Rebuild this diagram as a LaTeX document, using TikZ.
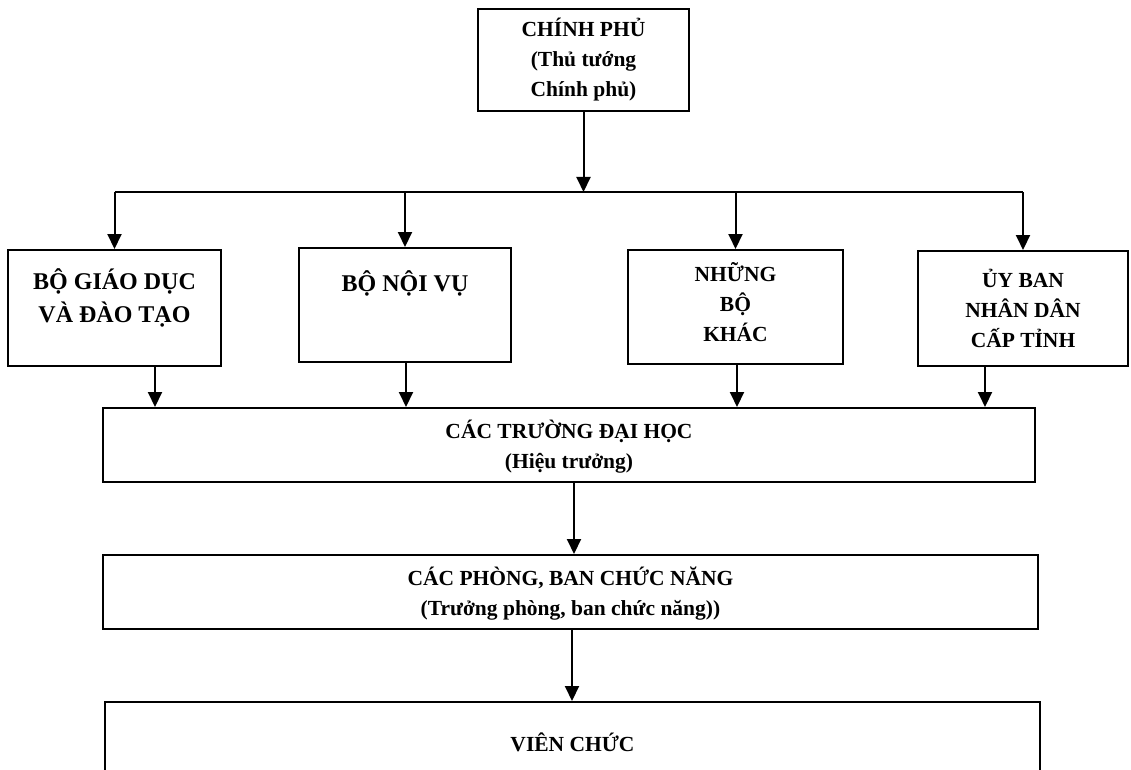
\documentclass[tikz,border=0pt]{standalone}
\usepackage{fontspec}
\setmainfont{Liberation Serif}
\usetikzlibrary{arrows.meta}

\tikzset{
	box/.style={draw, line width=2pt, inner sep=0pt},
	lbl/.style={align=center, font=\fontsize{21.5}{30}\selectfont\bfseries},
	biglbl/.style={align=center, font=\fontsize{24}{33}\selectfont\bfseries},
	arr/.style={line width=2pt, -{Triangle[width=14pt, length=15pt]}},
}

\begin{document}
\begin{tikzpicture}[x=1pt, y=-1pt]
	\useasboundingbox (0, 0) rectangle (1131, 770);
	\clip (0, 0) rectangle (1131, 770);
	% top
	\node [box, lbl, minimum width=211pt, minimum height=102pt] (gov) at (583.5, 60) {CHÍNH PHỦ\\(Thủ tướng\\Chính phủ)};
	\coordinate (bus) at (583.5, 192);
	% ministries
	\node [box, minimum width=213pt, minimum height=116pt] (moet) at (114.5, 308) {};
	\node [box, minimum width=212pt, minimum height=114pt] (moha) at (405, 305) {};
	\node [box, minimum width=215pt, minimum height=114pt] (other) at (735.5, 307) {};
	\node [box, minimum width=210pt, minimum height=115pt] (ppc) at (1023, 308.5) {};
	\node [biglbl] (t-moet) at (114.5, 298) {BỘ GIÁO DỤC\\VÀ ĐÀO TẠO};
	\node [biglbl] (t-moha) at (405, 283) {BỘ NỘI VỤ};
	\node [lbl] (t-other) at (735.5, 302) {NHỮNG\\BỘ\\KHÁC};
	\node [lbl] (t-ppc) at (1023, 308) {ỦY BAN\\NHÂN DÂN\\CẤP TỈNH};
	% lower levels
	\node [box, minimum width=932pt, minimum height=74pt] (univ) at (569, 445) {};
	\node [lbl] (t-univ) at (569, 447) {CÁC TRƯỜNG ĐẠI HỌC\\(Hiệu trưởng)};
	\node [box, minimum width=935pt, minimum height=74pt] (dept) at (570.5, 592) {};
	\node [lbl] (t-dept) at (570.5, 594) {CÁC PHÒNG, BAN CHỨC NĂNG\\(Trưởng phòng, ban chức năng))};
	\node [box, minimum width=935pt, minimum height=100pt] (staff) at (572.5, 752) {};
	\node [lbl] (t-staff) at (572.5, 742) {VIÊN CHỨC};
	% connectors
	\draw [arr] (gov.south) -- (bus);
	\draw [line width=1.5pt] (moet.north |- bus) -- (ppc.north |- bus);
	\foreach \m in {moet, moha, other, ppc}
		\draw [arr] (\m.north |- bus) -- (\m.north);
	\draw [arr] ([xshift=40.5pt]moet.south) -- ([xshift=40.5pt]moet.south |- univ.north);
	\draw [arr] ([xshift=1pt]moha.south) -- ([xshift=1pt]moha.south |- univ.north);
	\draw [arr] ([xshift=1.5pt]other.south) -- ([xshift=1.5pt]other.south |- univ.north);
	\draw [arr] ([xshift=-38pt]ppc.south) -- ([xshift=-38pt]ppc.south |- univ.north);
	\draw [arr] ([xshift=5pt]univ.south) -- ([xshift=5pt]univ.south |- dept.north);
	\draw [arr] ([xshift=1.5pt]dept.south) -- ([xshift=1.5pt]dept.south |- staff.north);
\end{tikzpicture}
\end{document}
